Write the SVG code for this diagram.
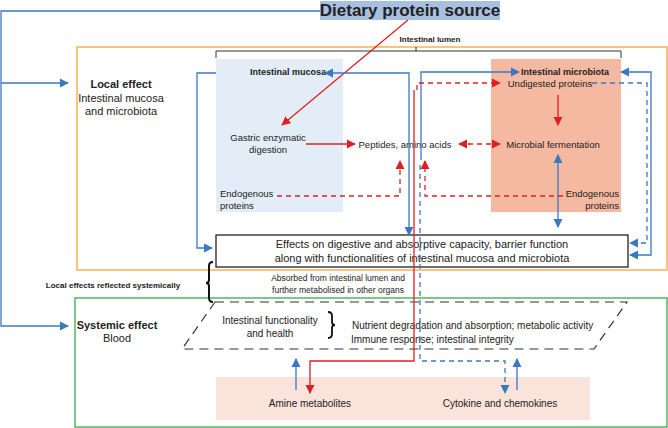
<svg xmlns="http://www.w3.org/2000/svg" width="668" height="428" viewBox="0 0 668 428">
<defs>
<marker id="ab" viewBox="0 0 10 10" refX="9" refY="5" markerWidth="7" markerHeight="7" orient="auto-start-reverse"><path d="M0,0L10,5L0,10z" fill="#3a78c2"/></marker>
<marker id="ar" viewBox="0 0 10 10" refX="9" refY="5" markerWidth="7" markerHeight="7" orient="auto-start-reverse"><path d="M0,0L10,5L0,10z" fill="#e02020"/></marker>
</defs>
<style>
text{font-family:"Liberation Sans",Arial,sans-serif;fill:#222;font-size:10px}
.b{font-weight:bold}
.m{text-anchor:middle}
.bl{stroke:#3a78c2;stroke-width:1.3;fill:none}
.rd{stroke:#e02020;stroke-width:1.3;fill:none}
.d{stroke-dasharray:5,4}
</style>
<g id="frames">
<rect x="77" y="47" width="590" height="223" fill="none" stroke="#f5a53c" stroke-width="1.3"/>
<rect x="75" y="298" width="592" height="129" fill="none" stroke="#3aa84a" stroke-width="1.3"/>
<rect x="216" y="59" width="127" height="153" fill="#e2edf7"/>
<rect x="491" y="59" width="130" height="153" fill="#f5b8a0"/>
<rect x="216" y="377" width="374" height="43" fill="#fae3da"/>
<path d="M216,58V51H621V58M416,51V47" fill="none" stroke="#333" stroke-width="1"/>
</g>
<g id="title"><rect x="320" y="1" width="180" height="19" fill="#a8c0e0"/><text x="410" y="16" class="b m" style="font-size:17px">Dietary protein source</text></g>
<g id="labels">
<text x="430" y="42" class="b m" style="font-size:8px">Intestinal lumen</text>
<text x="121" y="88" class="b m" style="font-size:11px">Local effect</text>
<text x="121" y="102" class="m" style="font-size:11px">Intestinal mucosa</text>
<text x="121" y="115" class="m" style="font-size:11px">and microbiota</text>
<text x="117" y="329" class="b m" style="font-size:11px">Systemic effect</text>
<text x="117" y="342" class="m" style="font-size:11px">Blood</text>
<text x="113" y="288" class="b m" style="font-size:8px">Local effects reflected systemically</text>
<text x="338" y="281" class="m" style="font-size:8.5px">Absorbed from intestinal lumen and</text>
<text x="338" y="293" class="m" style="font-size:8.5px">further metabolised in other organs</text>
<path d="M213,262q-4,0 -4,4v14q0,3 -3,3q3,0 3,3v12q0,4 4,4" fill="none" stroke="#111" stroke-width="2"/>
</g>
<g id="mucosa"><text x="288" y="75" class="b m" style="font-size:9px">Intestinal mucosa</text></g>
<g id="microbiota"><text x="565" y="75" class="b m" style="font-size:9px">Intestinal microbiota</text></g>
<g id="undigested"><text x="550" y="87" class="m" style="font-size:9.5px">Undigested proteins</text></g>
<g id="gastric"><text x="268" y="141" class="m" style="font-size:9.5px">Gastric enzymatic</text><text x="268" y="153" class="m" style="font-size:9.5px">digestion</text></g>
<g id="peptides"><text x="405" y="148" class="m" style="font-size:9.5px">Peptides, amino acids</text></g>
<g id="fermentation"><text x="553" y="148" class="m" style="font-size:9.5px">Microbial fermentation</text></g>
<g id="endo1"><text x="220" y="197" style="font-size:9.5px">Endogenous</text><text x="220" y="209" style="font-size:9.5px">proteins</text></g>
<g id="endo2"><text x="619" y="197" style="font-size:9.5px;text-anchor:end">Endogenous</text><text x="619" y="209" style="font-size:9.5px;text-anchor:end">proteins</text></g>
<g id="effects"><rect x="216" y="235" width="412" height="32" fill="#fff" stroke="#222" stroke-width="1.3"/>
<text x="422" y="248" class="m" style="font-size:11px">Effects on digestive and absorptive capacity, barrier function</text>
<text x="422" y="262" class="m" style="font-size:11px">along with functionalities of intestinal mucosa and microbiota</text></g>
<g id="systemic">
<path d="M215,302H627L594,349H182Z" fill="none" stroke="#333" stroke-width="1.2" stroke-dasharray="9,6"/>
<text x="270" y="324" class="m" style="font-size:10px">Intestinal functionality</text>
<text x="270" y="337" class="m" style="font-size:10px">and health</text>
<path d="M328,312q4,0 4,4v6q0,3 3,3q-3,0 -3,3v6q0,4 -4,4" fill="none" stroke="#111" stroke-width="1.8"/>
<text x="352" y="329" style="font-size:10px">Nutrient degradation and absorption; metabolic activity</text>
<text x="351" y="343" style="font-size:10px">Immune response; intestinal integrity</text>
</g>
<g id="amine"><text x="310" y="407" class="m" style="font-size:10px">Amine metabolites</text></g>
<g id="cytokine"><text x="500" y="407" class="m" style="font-size:10px">Cytokine and chemokines</text></g>
<g id="connectors">
<path class="bl" d="M320,11H1V326H68" marker-end="url(#ab)"/>
<path class="bl" d="M1,83H68" marker-end="url(#ab)"/>
<path class="rd" d="M408,20L282,125" marker-end="url(#ar)"/>
<path class="bl" d="M216,73H197V248H212" marker-end="url(#ab)"/>
<path class="bl" d="M325,73H409V235" marker-start="url(#ab)" marker-end="url(#ab)"/>
<path class="bl" d="M421,160V72H519" marker-end="url(#ab)"/>
<path class="rd d" d="M417,90V83H500" marker-end="url(#ar)"/>
<path class="rd" d="M414,90V361H310V393" marker-end="url(#ar)"/>
<path class="bl d" d="M420,165V361H505V393" marker-end="url(#ab)"/>
<path class="bl d" d="M592,83H647V243H630" marker-end="url(#ab)"/>
<path class="bl" d="M621,72H651V255H630" marker-start="url(#ab)" marker-end="url(#ab)"/>
<path class="rd" d="M558,95V125" marker-end="url(#ar)"/>
<path class="rd" d="M306,144H355" marker-end="url(#ar)"/>
<path class="rd d" d="M459,144H500" marker-start="url(#ar)" marker-end="url(#ar)"/>
<path class="bl" d="M558,155V227" marker-start="url(#ab)" marker-end="url(#ab)"/>
<path class="rd d" d="M277,196H400V161" marker-end="url(#ar)"/>
<path class="rd d" d="M563,196H425V161" marker-end="url(#ar)"/>
<path class="bl" d="M296,390V359" marker-end="url(#ab)"/>
<path class="bl" d="M517,390V359" marker-end="url(#ab)"/>
</g>
</svg>
